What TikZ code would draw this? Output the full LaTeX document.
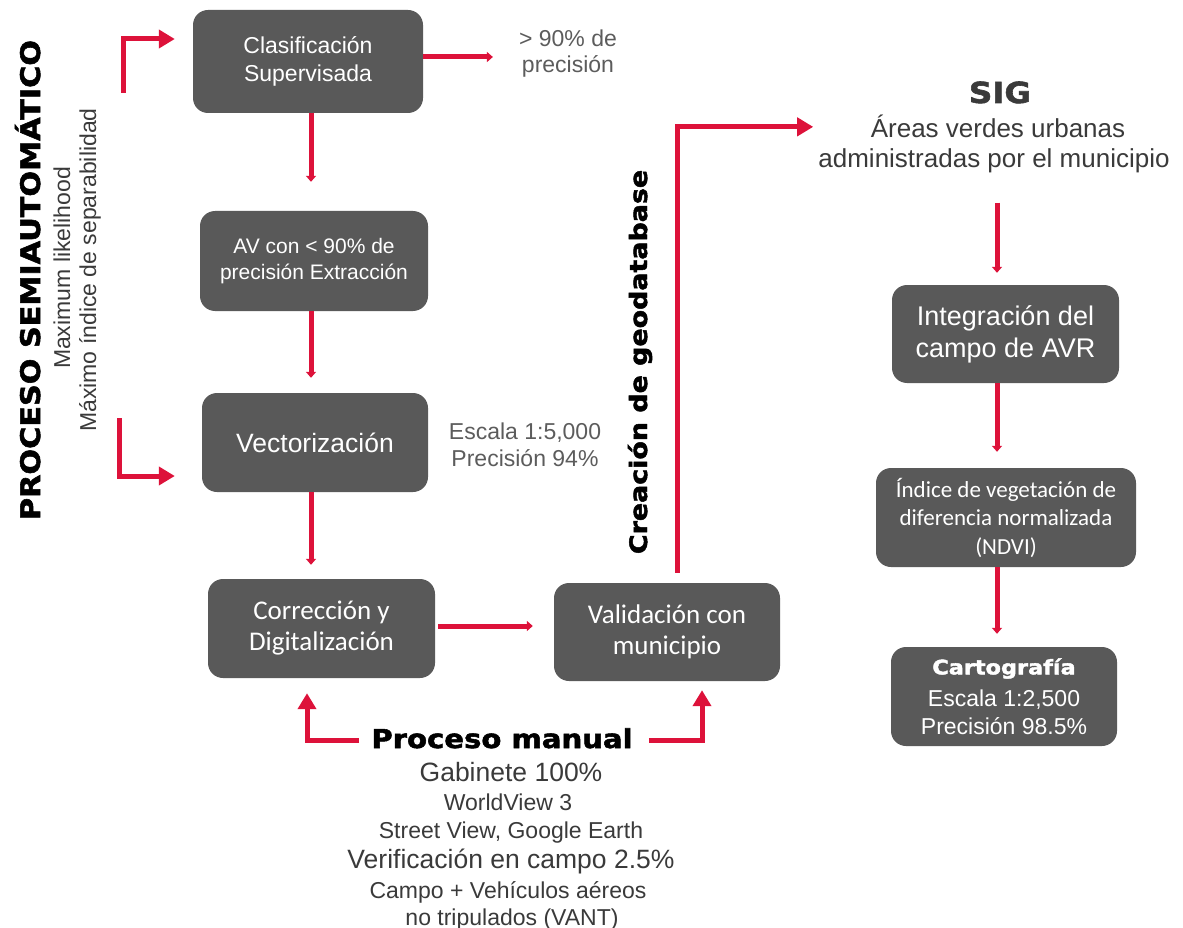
\documentclass[tikz,border=0pt]{standalone}
\usepackage{fontspec}
\setmainfont{Liberation Sans}
\newfontfamily\calibfont{Carlito}
\newfontfamily\blackfont[FakeStretch=1.12,FakeBold=2]{DejaVu Sans Bold}
\usetikzlibrary{arrows.meta}
\definecolor{boxgray}{RGB}{89,89,89}
\definecolor{arrowred}{RGB}{221,18,58}
\definecolor{notegray}{RGB}{92,92,92}
\definecolor{darktext}{RGB}{58,58,58}

\begin{document}
\begin{tikzpicture}[x=1pt,y=-1pt,
  box/.style={fill=boxgray,rounded corners=15pt,text=white,align=center,inner sep=0pt},
  flow/.style={arrowred,line width=5pt,-{Triangle[width=10pt,length=6pt]}},
  bigflow/.style={arrowred,line width=5pt,-{Triangle[width=18pt,length=16pt]}},
  note/.style={text=notegray,align=center,inner sep=0pt},
  rem/.style={text=darktext,anchor=base,inner sep=0pt}]
\useasboundingbox (0,0) rectangle (1183,928);
% semiautomatic column
\node[box,minimum width=230,minimum height=103,font=\fontsize{23}{28}\selectfont] (clas) at (308,61.5) {Clasificación\\Supervisada};
\node[box,minimum width=228,minimum height=100,font=\fontsize{21}{26}\selectfont] (av) at (314,261) {AV con < 90\% de\\precisión Extracción};
\node[box,minimum width=226,minimum height=99,font=\fontsize{26.5}{31}\selectfont] (vect) at (315,442.5) {Vectorización};
\node[box,minimum width=227,minimum height=99,font=\calibfont\fontsize{27}{31}\selectfont] (corr) at (321.5,628.5) {Corrección y\\Digitalización};
\node[box,minimum width=226,minimum height=98,font=\calibfont\fontsize{27}{31}\selectfont] (valid) at (667,632) {Validación con\\municipio};
% SIG column
\node[box,minimum width=227,minimum height=98,font=\fontsize{27}{32}\selectfont] (integ) at (1005.5,334) {Integración del\\campo de AVR};
\node[box,minimum width=260,minimum height=99,font=\calibfont\fontsize{23}{28.5}\selectfont] (ndvi) at (1006,517.5) {Índice de vegetación de\\diferencia normalizada\\(NDVI)};
\node[box,minimum width=226,minimum height=99,font=\fontsize{23}{28}\selectfont] (carto) at (1004,696.5) {{\blackfont\fontsize{20}{24}\selectfont Cartografía}\\[4pt]Escala 1:2,500\\Precisión 98.5\%};
% side notes
\node[note,font=\fontsize{23}{26}\selectfont] (p90) at (568,54) {> 90\% de\\precisión};
\node[note,font=\fontsize{23}{27}\selectfont] (esc) at (525,445) {Escala 1:5,000\\Precisión 94\%};
\node[rem,font=\blackfont\fontsize{29}{35}\selectfont] (sig) at (1000,103) {SIG};
\node[rem,font=\fontsize{26}{30}\selectfont] (avu) at (998,138) {Áreas verdes urbanas};
\node[rem,font=\fontsize{26}{30}\selectfont] (adm) at (994,168) {administradas por el municipio};
\node[rem,text=black,font=\blackfont\fontsize{27}{32}\selectfont,rotate=90] (semi) at (40,280) {PROCESO SEMIAUTOMÁTICO};
\node[rem,font=\fontsize{23}{27}\selectfont,rotate=90] (maxl) at (70,268) {Maximum likelihood};
\node[rem,font=\fontsize{23}{27}\selectfont,rotate=90] (maxi) at (96,270) {Máximo índice de separabilidad};
\node[rem,text=black,font=\blackfont\fontsize{24}{28}\selectfont,rotate=90] (gdb) at (647,362) {Creación de geodatabase};
% manual process
\node[rem,text=black,font=\blackfont\fontsize{26}{30}\selectfont] (pm) at (502,748) {Proceso manual};
\node[rem,font=\fontsize{26.5}{30}\selectfont] (gab) at (511,781) {Gabinete 100\%};
\node[rem,font=\fontsize{23}{27}\selectfont] (wv) at (508,810) {WorldView 3};
\node[rem,font=\fontsize{23}{27}\selectfont] (sv) at (511,838) {Street View, Google Earth};
\node[rem,font=\fontsize{26.5}{30}\selectfont] (ver) at (511,868) {Verificación en campo 2.5\%};
\node[rem,font=\fontsize{23}{27}\selectfont] (cmp) at (508,898) {Campo + Vehículos aéreos};
\node[rem,font=\fontsize{23}{27}\selectfont] (vant) at (512,925) {no tripulados (VANT)};
% connectors
\coordinate (semitop) at (123,93);
\coordinate (semibot) at (119,418);
\draw[bigflow,shorten >=18pt] (semitop) |- ([yshift=22.5pt]clas.west);
\draw[bigflow,shorten >=27pt] (semibot) |- ([yshift=-33.5pt]vect.west);
\draw[flow,shorten >=26pt] ([yshift=4.5pt]clas.east) -- ([yshift=4.5pt]clas.east -| p90.west);
\draw[flow,shorten >=29pt] ([xshift=3pt]clas.south) -- ([xshift=3pt]clas.south |- av.north);
\draw[flow,shorten >=15pt] ([xshift=-3pt]av.south) -- ([xshift=-3pt]av.south |- vect.north);
\draw[flow,shorten >=14pt] ([xshift=-4pt]vect.south) -- ([xshift=-4pt]vect.south |- corr.north);
\draw[flow,shorten <=3pt,shorten >=21pt] ([yshift=2.5pt]corr.east) -- ([yshift=2.5pt]corr.east -| valid.west);
\draw[bigflow,shorten <=10pt,shorten >=5pt] ([xshift=10pt]valid.north) |- (adm.west |- avu.west);
\draw[bigflow,shorten <=12pt,shorten >=15pt] ([yshift=-2pt]pm.west) -| ([xshift=-14.5pt]corr.south);
\draw[bigflow,shorten <=16pt,shorten >=9pt] ([yshift=-2pt]pm.east) -| ([xshift=35pt]valid.south);
\draw[flow,shorten <=29pt,shorten >=12pt] ([xshift=-8.5pt]integ.north |- adm.south) -- ([xshift=-8.5pt]integ.north);
\draw[flow,shorten >=16pt] ([xshift=-8.5pt]integ.south) -- ([xshift=-8.5pt]integ.south |- ndvi.north);
\draw[flow,shorten >=13pt] ([xshift=-9pt]ndvi.south) -- ([xshift=-9pt]ndvi.south |- carto.north);
\end{tikzpicture}
\end{document}
